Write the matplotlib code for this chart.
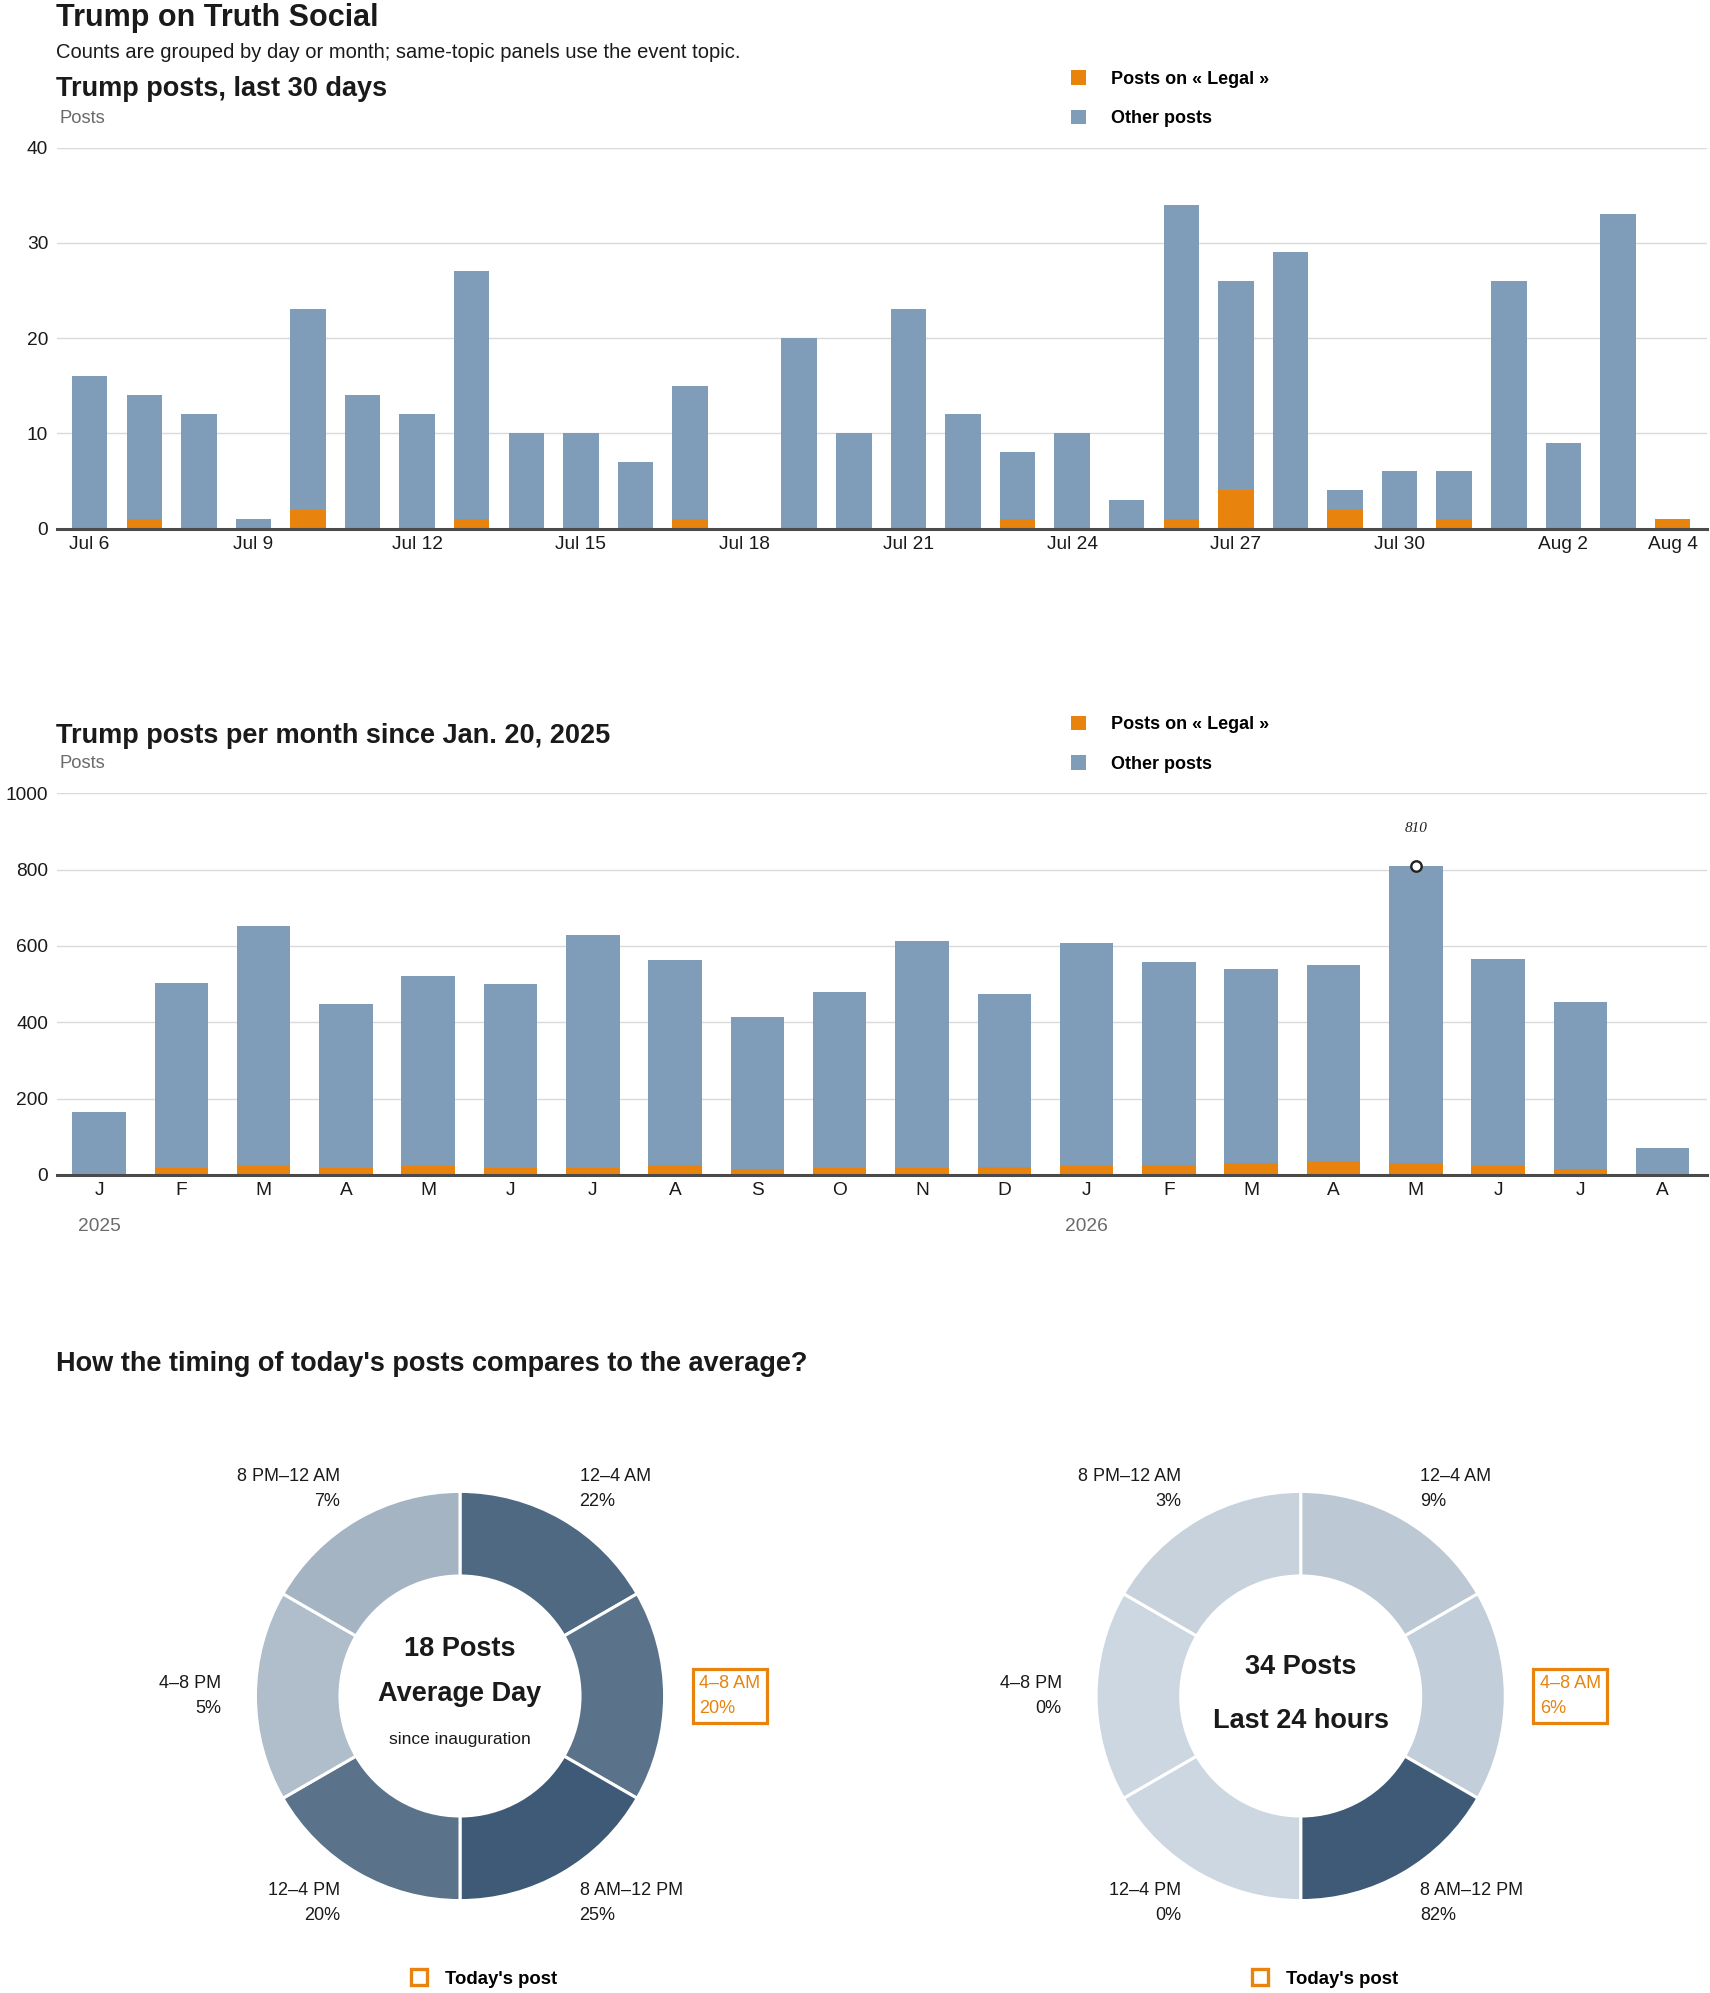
import numpy as np
import pandas as pd
import matplotlib
matplotlib.use("Agg")
import matplotlib.pyplot as plt
from matplotlib.lines import Line2D
from matplotlib.colors import to_rgb

# ---- data ----
days = pd.date_range("2026-07-06", "2026-08-04", freq="D")
daily_total = [16, 14, 12, 1, 23, 14, 12, 27, 10, 10, 7, 15, 0, 20, 10,
               23, 12, 8, 10, 3, 34, 26, 29, 4, 6, 6, 26, 9, 33, 1]
daily_legal = [0, 1, 0, 0, 2, 0, 0, 1, 0, 0, 0, 1, 0, 0, 0,
               0, 0, 1, 0, 0, 1, 4, 0, 2, 0, 1, 0, 0, 0, 1]

month_letters = ["J", "F", "M", "A", "M", "J", "J", "A", "S", "O", "N", "D",
                 "J", "F", "M", "A", "M", "J", "J", "A"]
month_years = {0: "2025", 12: "2026"}
monthly_total = [165, 503, 653, 447, 520, 500, 630, 563, 413, 480,
                 613, 473, 607, 557, 540, 550, 810, 567, 453, 70]
monthly_legal = [0, 17, 22, 17, 22, 17, 17, 25, 15, 17,
                 17, 20, 22, 25, 30, 36, 30, 22, 15, 0]

slots = ["12–4 AM", "4–8 AM", "8 AM–12 PM", "12–4 PM", "4–8 PM", "8 PM–12 AM"]
avg_share = [22, 20, 25, 20, 5, 7]
last24_share = [9, 6, 82, 0, 0, 3]
avg_posts = 18
last24_posts = 34
today_slot = "4–8 AM"
topic = "Legal"

# ---- style ----
ORANGE = "#e8830e"
BLUE = "#7f9db8"
DARK = "#3e5a76"
LIGHT = "#ccd7e1"
INK = "#1a1a1a"
GRID = "#dadada"

plt.rcParams["font.family"] = ["Liberation Sans", "DejaVu Sans"]

W, H = 1710, 1993
fig = plt.figure(figsize=(W / 100, H / 100), dpi=100)


def fx(x):
    return x / W


def fy(y):
    return 1 - y / H


def rect(left, top, right, bottom):
    return [fx(left), fy(bottom), (right - left) / W, (bottom - top) / H]


fig.text(fx(56), fy(26), "Trump on Truth Social", size=22, weight="bold",
         color=INK, va="baseline")
fig.text(fx(56), fy(58), "Counts are grouped by day or month; same-topic panels use the event topic.",
         size=14.5, color=INK, va="baseline")


def bar_panel(ax, total, legal, ticks, ticklabels, ymax, ystep, xlim):
    x = np.arange(len(total))
    legal = np.array(legal)
    other = np.array(total) - legal
    b1 = ax.bar(x, legal, width=0.65, color=ORANGE, linewidth=0)
    b2 = ax.bar(x, other, bottom=legal, width=0.65, color=BLUE, linewidth=0)
    ax.set_xlim(*xlim)
    ax.set_ylim(0, ymax)
    ax.set_yticks(np.arange(0, ymax + 1, ystep))
    ax.set_xticks(ticks)
    ax.set_xticklabels(ticklabels)
    ax.grid(axis="y", color=GRID, linewidth=1)
    ax.set_axisbelow(True)
    for s in ["top", "right", "left"]:
        ax.spines[s].set_visible(False)
    ax.spines["bottom"].set_color("#4a4a4a")
    ax.spines["bottom"].set_linewidth(2.2)
    ax.spines["bottom"].set_zorder(5)
    ax.tick_params(axis="both", length=0, labelsize=13.8, colors=INK)
    ax.tick_params(axis="x", pad=5.5)
    ax.tick_params(axis="y", pad=6)
    return b1, b2


def panel_legend(ax, handles, top):
    ax.legend(handles, [f"Posts on « {topic} »", "Other posts"],
              loc="upper left", bbox_to_anchor=(fx(1071), fy(top)),
              bbox_transform=fig.transFigure, frameon=False,
              prop=dict(weight="bold", size=13), handlelength=0.85,
              handleheight=0.85, handletextpad=1.35, labelspacing=1.2,
              borderpad=0, borderaxespad=0)


# ---- daily panel ----
fig.text(fx(56), fy(96), "Trump posts, last 30 days", size=19.5,
         weight="bold", color=INK, va="baseline")
fig.text(fx(59), fy(123), "Posts", size=13.2, color="#6b6b6b", va="baseline")
ax1 = fig.add_axes(rect(56.5, 147.5, 1707, 528.6))
tick_idx = list(range(0, len(days), 3)) + [len(days) - 1]
tick_lab = [f"{days[i]:%b} {days[i].day}" for i in tick_idx]
h = bar_panel(ax1, daily_total, daily_legal, tick_idx, tick_lab, 40, 10,
              (-0.608, 29.632))
panel_legend(ax1, h, 70.5)

# ---- monthly panel ----
fig.text(fx(56), fy(742.7), "Trump posts per month since Jan. 20, 2025",
         size=19.5, weight="bold", color=INK, va="baseline")
fig.text(fx(59), fy(768), "Posts", size=13.2, color="#6b6b6b", va="baseline")
ax2 = fig.add_axes(rect(56.5, 793.4, 1707, 1174.8))
h = bar_panel(ax2, monthly_total, monthly_legal, range(len(month_letters)),
              month_letters, 1000, 200, (-0.516, 19.538))
panel_legend(ax2, h, 716)
for i, yr in month_years.items():
    ax2.annotate(yr, xy=(i, 0), xytext=(0, -37.5), textcoords="offset points",
                 ha="center", va="center", size=13.8, color="#6b6b6b")
peak = int(np.argmax(monthly_total))
ax2.plot(peak, monthly_total[peak], "o", ms=7.5, mfc="white", mec="#222222",
         mew=1.7, zorder=6, clip_on=False)
ax2.annotate(str(monthly_total[peak]), xy=(peak, monthly_total[peak]),
             xytext=(0, 27), textcoords="offset points", ha="center",
             va="center", size=11, style="italic", color="#222222",
             family=["Liberation Serif", "DejaVu Serif"])

# ---- donuts ----
fig.text(fx(56), fy(1371), "How the timing of today's posts compares to the average?",
         size=19.5, weight="bold", color=INK, va="baseline")


def shade(v, vmax):
    t = v / vmax if vmax else 0
    a, b = np.array(to_rgb(LIGHT)), np.array(to_rgb(DARK))
    return tuple(a + (b - a) * t)


def donut(cx, cy, shares, big, caption, note):
    ax = fig.add_axes(rect(cx - 400, cy - 300, cx + 400, cy + 300))
    cols = [shade(v, max(shares)) for v in shares]
    ax.pie([1] * len(shares), colors=cols, startangle=90, counterclock=False,
           radius=204.6, wedgeprops=dict(width=84.6, edgecolor="white", linewidth=2.2))
    ax.set_xlim(-400, 400)
    ax.set_ylim(-300, 300)
    ax.set_aspect("equal")
    ax.axis("off")
    for i, (slot, v) in enumerate(zip(slots, shares)):
        ang = np.deg2rad(60 - 60 * i)
        x, y = 239 * np.cos(ang), 239 * np.sin(ang)
        ha = "left" if np.cos(ang) > 0.01 else "right"
        kw = dict(ha=ha, va="center", ma=ha, size=13, linespacing=1.6, color=INK)
        if slot == today_slot:
            kw["color"] = ORANGE
            kw["bbox"] = dict(boxstyle="square,pad=0.36", fc="none", ec=ORANGE, lw=2.3)
        ax.text(x, y, f"{slot}\n{v}%", **kw)
    if note:
        ax.text(0, 40.4, f"{big} Posts", ha="center", va="baseline", size=19.5,
                weight="bold", color=INK)
        ax.text(0, -5.3, caption, ha="center", va="baseline", size=19.5,
                weight="bold", color=INK)
        ax.text(0, -47.5, note, ha="center", va="baseline", size=12.5, color=INK)
    else:
        ax.text(0, 22.2, f"{big} Posts", ha="center", va="baseline", size=19.5,
                weight="bold", color=INK)
        ax.text(0, -31.5, caption, ha="center", va="baseline", size=19.5,
                weight="bold", color=INK)
    mark = Line2D([], [], marker="s", ls="none", ms=11.5, mfc="none", mec=ORANGE, mew=2.4)
    fig.legend([mark], ["Today's post"], loc="center left",
               bbox_to_anchor=(fx(cx - 50.25), fy(1979)), frameon=False,
               prop=dict(weight="bold", size=13.3), handlelength=1.0,
               handletextpad=0.93, borderpad=0, borderaxespad=0)


donut(460, 1696, avg_share, avg_posts, "Average Day", "since inauguration")
donut(1300.7, 1696, last24_share, last24_posts, "Last 24 hours", None)

fig.savefig("out.png", dpi=100)
